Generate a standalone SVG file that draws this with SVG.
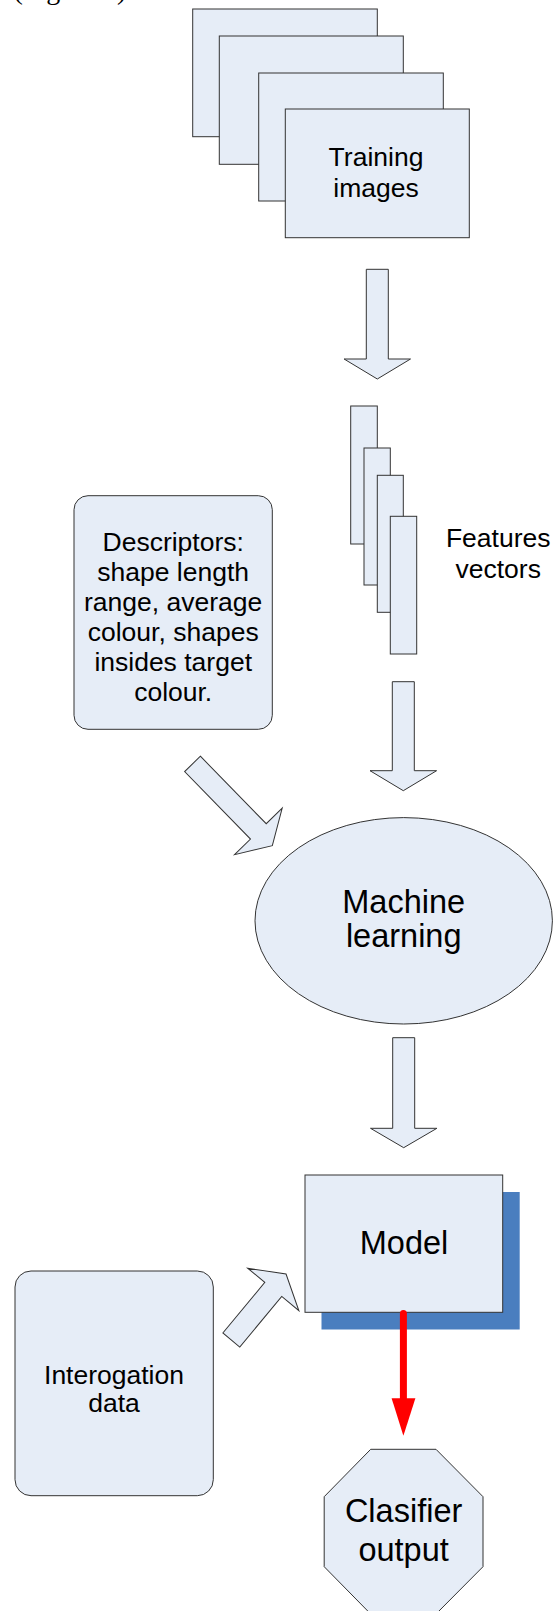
<svg xmlns="http://www.w3.org/2000/svg" width="557" height="1611" viewBox="0 0 557 1611">
  <style>
    .box { fill: #E6EDF7; stroke: #333333; stroke-width: 1; }
    .arrow { fill: #E6EDF7; stroke: #333333; stroke-width: 1; stroke-linejoin: miter; }
    .lbl { font-family: "Liberation Sans", Arial, sans-serif; fill: #000000; text-anchor: middle; }
    .s { font-size: 26.5px; }
    .l { font-size: 32.5px; }
    .cap { font-family: "Liberation Serif", "Times New Roman", serif; font-size: 28px; fill: #000000; }
  </style>
  <rect width="557" height="1611" fill="#ffffff"/>

  <!-- caption line from the text above, clipped at the top edge -->
  <text class="cap" x="13.6" y="-1">(Figure 3).</text>

  <!-- stack of training images -->
  <g id="training-images">
    <rect class="box" x="192.7" y="9" width="184.6" height="127.7"/>
    <rect class="box" x="219.3" y="36" width="184" height="128.3"/>
    <rect class="box" x="258.7" y="73" width="184.6" height="128"/>
    <rect class="box" x="285.3" y="109" width="184" height="128.7"/>
    <text class="lbl s" x="376" y="166">Training</text>
    <text class="lbl s" x="376" y="196.7">images</text>
  </g>

  <!-- stack of feature vectors -->
  <g id="feature-vectors">
    <rect class="box" x="350.7" y="406" width="26.6" height="138"/>
    <rect class="box" x="364" y="448" width="26.3" height="137"/>
    <rect class="box" x="377.3" y="475.3" width="26" height="137"/>
    <rect class="box" x="390.3" y="516.3" width="26.4" height="137.7"/>
    <text class="lbl s" x="498.2" y="546.7">Features</text>
    <text class="lbl s" x="498.2" y="578.3">vectors</text>
  </g>

  <!-- descriptor definition -->
  <g id="descriptors">
    <rect class="box" x="74" y="495.7" width="198.3" height="233.6" rx="14" ry="14"/>
    <text class="lbl s" x="173.2" y="550.7">Descriptors:</text>
    <text class="lbl s" x="173.2" y="580.7">shape length</text>
    <text class="lbl s" x="173.2" y="610.7">range, average</text>
    <text class="lbl s" x="173.2" y="640.7">colour, shapes</text>
    <text class="lbl s" x="173.2" y="670.7">insides target</text>
    <text class="lbl s" x="173.2" y="701">colour.</text>
  </g>

  <!-- learning stage -->
  <g id="machine-learning">
    <ellipse class="box" cx="403.7" cy="920.8" rx="148.7" ry="103.2"/>
    <text class="lbl l" x="403.7" y="913.3">Machine</text>
    <text class="lbl l" x="403.7" y="946.7">learning</text>
  </g>

  <!-- trained model with drop shadow -->
  <g id="model">
    <rect x="321.5" y="1192" width="198.2" height="137.5" fill="#4A7EBF"/>
    <rect class="box" x="305" y="1175" width="197.7" height="137.3"/>
    <text class="lbl l" x="404" y="1254.3">Model</text>
  </g>

  <!-- query input -->
  <g id="interrogation-data">
    <rect class="box" x="15" y="1271" width="198.3" height="224.7" rx="16" ry="16"/>
    <text class="lbl s" x="114" y="1384">Interogation</text>
    <text class="lbl s" x="114" y="1412">data</text>
  </g>

  <!-- classifier result -->
  <g id="classifier-output">
    <polygon class="box" points="370.7,1449.3 436,1449.3 483,1496.7 483,1566.7 436,1614 370.7,1614 324.2,1566.7 324.2,1496.7"/>
    <text class="lbl l" x="403.6" y="1521.7">Clasifier</text>
    <text class="lbl l" x="403.6" y="1561">output</text>
  </g>

  <!-- connectors -->
  <g id="connectors">
    <!-- training images to feature vectors -->
    <path class="arrow" d="M366.3,269.3 H388.3 V359 H410.5 L377.3,379 L344.1,359 H366.3 Z"/>
    <!-- feature vectors to machine learning -->
    <path class="arrow" d="M392.3,681.7 H414.3 V770.7 H436.6 L403.3,790.7 L370,770.7 H392.3 Z"/>
    <!-- descriptors to machine learning -->
    <path class="arrow" transform="translate(192.5,763.9) rotate(45.7)" d="M0,-11 H94.3 V-33.3 L114.3,0 L94.3,33.3 V11 H0 Z"/>
    <!-- machine learning to model -->
    <path class="arrow" d="M392.7,1037.7 H414.7 V1128.3 H436.9 L403.7,1147.7 L370.5,1128.3 H392.7 Z"/>
    <!-- interrogation data to model -->
    <path class="arrow" transform="translate(231.3,1340) rotate(-50.3)" d="M0,-11 H65.7 V-33.3 L85.7,0 L65.7,33.3 V11 H0 Z"/>
    <!-- model to classifier output -->
    <line x1="403.4" y1="1313.5" x2="403.4" y2="1400" stroke="#FF0000" stroke-width="7" stroke-linecap="round"/>
    <polygon points="391.6,1398.3 415.4,1398.3 403.4,1435.7" fill="#FF0000"/>
  </g>
</svg>
